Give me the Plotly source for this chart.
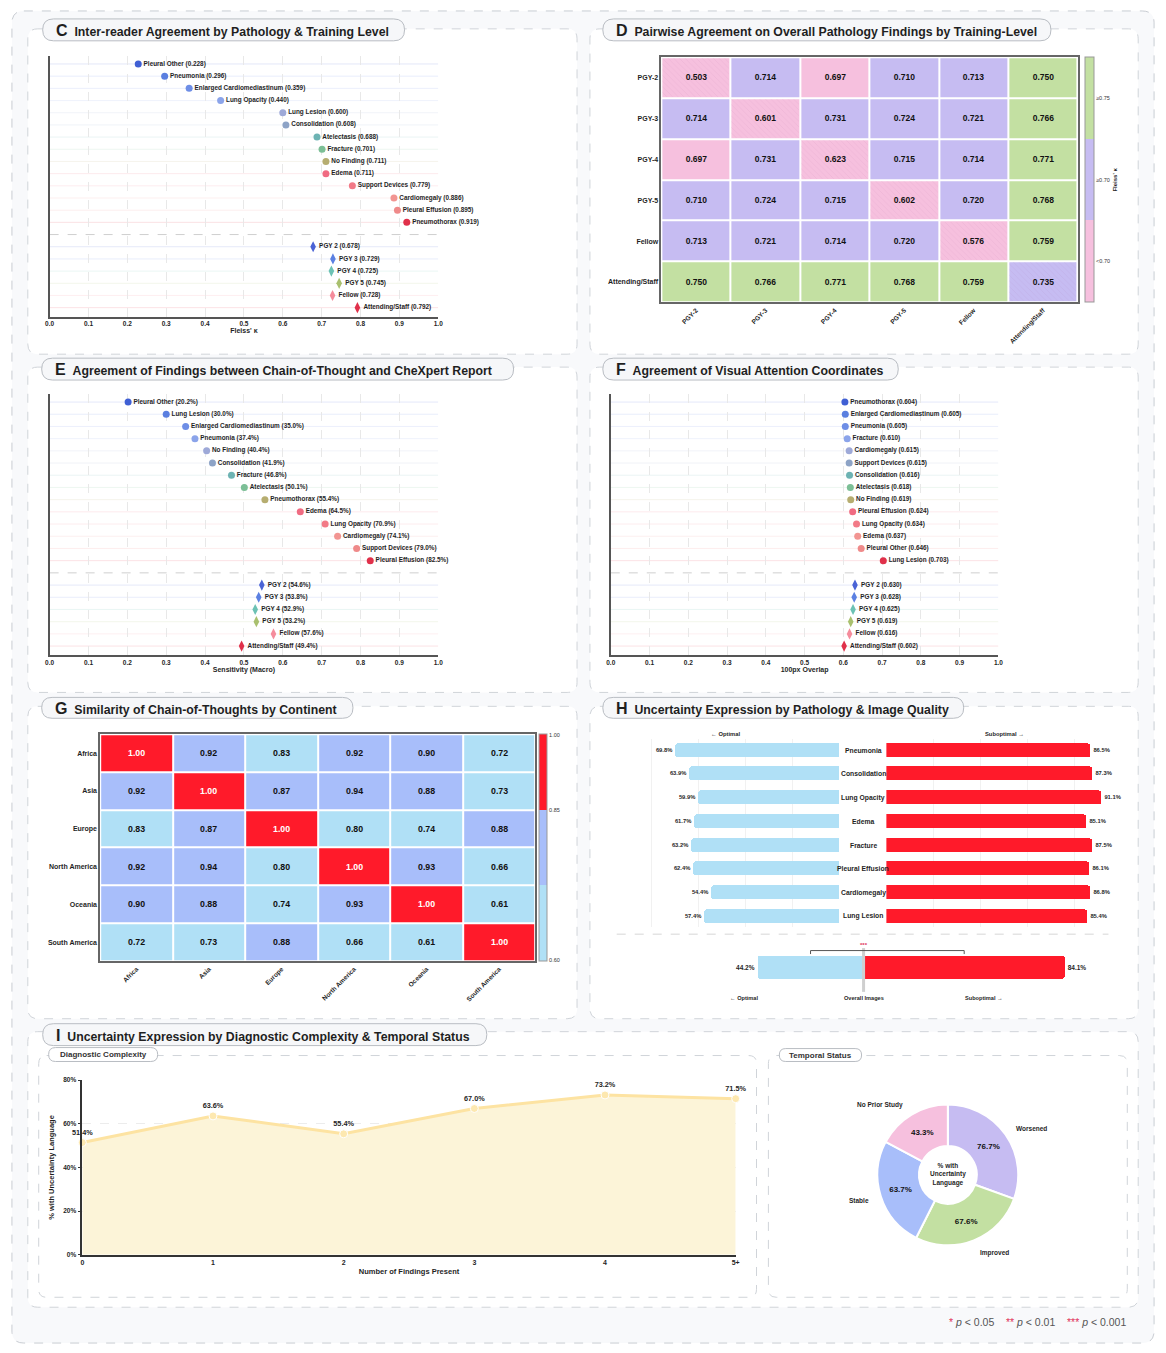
import plotly.graph_objects as go

# ---------------- data ----------------
levels = ["PGY 2", "PGY 3", "PGY 4", "PGY 5", "Fellow", "Attending/Staff"]

C_paths = ["Pleural Other", "Pneumonia", "Enlarged Cardiomediastinum", "Lung Opacity", "Lung Lesion",
           "Consolidation", "Atelectasis", "Fracture", "No Finding", "Edema", "Support Devices",
           "Cardiomegaly", "Pleural Effusion", "Pneumothorax"]
C_vals = [0.228, 0.296, 0.359, 0.440, 0.600, 0.608, 0.688, 0.701, 0.711, 0.711, 0.779, 0.886, 0.895, 0.919]
C_levels = [0.678, 0.729, 0.725, 0.745, 0.728, 0.792]

E_paths = ["Pleural Other", "Lung Lesion", "Enlarged Cardiomediastinum", "Pneumonia", "No Finding",
           "Consolidation", "Fracture", "Atelectasis", "Pneumothorax", "Edema", "Lung Opacity",
           "Cardiomegaly", "Support Devices", "Pleural Effusion"]
E_vals = [0.202, 0.300, 0.350, 0.374, 0.404, 0.419, 0.468, 0.501, 0.554, 0.645, 0.709, 0.741, 0.790, 0.825]
E_levels = [0.546, 0.538, 0.529, 0.532, 0.576, 0.494]

F_paths = ["Pneumothorax", "Enlarged Cardiomediastinum", "Pneumonia", "Fracture", "Cardiomegaly",
           "Support Devices", "Consolidation", "Atelectasis", "No Finding", "Pleural Effusion",
           "Lung Opacity", "Edema", "Pleural Other", "Lung Lesion"]
F_vals = [0.604, 0.605, 0.605, 0.610, 0.615, 0.615, 0.616, 0.618, 0.619, 0.624, 0.634, 0.637, 0.646, 0.703]
F_levels = [0.630, 0.628, 0.625, 0.619, 0.616, 0.602]

D_labels = ["PGY-2", "PGY-3", "PGY-4", "PGY-5", "Fellow", "Attending/Staff"]
D_vals = [[0.503, 0.714, 0.697, 0.710, 0.713, 0.750],
          [0.714, 0.601, 0.731, 0.724, 0.721, 0.766],
          [0.697, 0.731, 0.623, 0.715, 0.714, 0.771],
          [0.710, 0.724, 0.715, 0.602, 0.720, 0.768],
          [0.713, 0.721, 0.714, 0.720, 0.576, 0.759],
          [0.750, 0.766, 0.771, 0.768, 0.759, 0.735]]
D_bins = ["<0.70", "≥0.70", "≥0.75"]

G_labels = ["Africa", "Asia", "Europe", "North America", "Oceania", "South America"]
G_vals = [[1.00, 0.92, 0.83, 0.92, 0.90, 0.72],
          [0.92, 1.00, 0.87, 0.94, 0.88, 0.73],
          [0.83, 0.87, 1.00, 0.80, 0.74, 0.88],
          [0.92, 0.94, 0.80, 1.00, 0.93, 0.66],
          [0.90, 0.88, 0.74, 0.93, 1.00, 0.61],
          [0.72, 0.73, 0.88, 0.66, 0.61, 1.00]]
G_ticks = ["0.60", "0.85", "1.00"]

H_paths = ["Pneumonia", "Consolidation", "Lung Opacity", "Edema", "Fracture", "Pleural Effusion",
           "Cardiomegaly", "Lung Lesion"]
H_optimal = [69.8, 63.9, 59.9, 61.7, 63.2, 62.4, 54.4, 57.4]
H_suboptimal = [86.5, 87.3, 91.1, 85.1, 87.5, 86.1, 86.8, 85.4]
H_overall = [44.2, 84.1]

I_findings = ["0", "1", "2", "3", "4", "5+"]
I_pct = [51.4, 63.6, 55.4, 67.0, 73.2, 71.5]
T_status = ["Worsened", "Improved", "Stable", "No Prior Study"]
T_pct = [76.7, 67.6, 63.7, 43.3]

# ---------------- styling ----------------
PATH_COLORS = ["#3f5fd4", "#5a7fe0", "#6e8ee6", "#8ba4ea", "#9ea9d8", "#8da3c6", "#6db3b3",
               "#7cbf96", "#b6ad70", "#f06b82", "#f27a87", "#f29592", "#ef8a8a", "#e0304a"]
LEVEL_COLORS = ["#4a63d6", "#5b80e2", "#6cc2b4", "#a9c06e", "#f58c9c", "#e0304a"]
PINK, LAV, GREEN = "#f6c0de", "#c6bcf2", "#c3e0a2"
RED, BLUE, LBLUE = "#ff1a2a", "#a8befa", "#b0e0f6"
FONT = "Liberation Sans, Arial, Helvetica, sans-serif"
TXT = "#1f1f1f"

W, H = 1166, 1353


def X(p):
    return p / W


def Y(p):
    return 1 - p / H


def rgba(h, a):
    h = h.lstrip("#")
    return f"rgba({int(h[0:2],16)},{int(h[2:4],16)},{int(h[4:6],16)},{a})"


shapes, annos = [], []


def rrect(x0, y0, x1, y1, r, fill, line, dash="dash", width=1):
    def P(x, y):
        return f"{X(x):.5f},{Y(y):.5f}"
    path = (f"M {P(x0+r,y0)} L {P(x1-r,y0)} Q {P(x1,y0)} {P(x1,y0+r)} L {P(x1,y1-r)} "
            f"Q {P(x1,y1)} {P(x1-r,y1)} L {P(x0+r,y1)} Q {P(x0,y1)} {P(x0,y1-r)} "
            f"L {P(x0,y0+r)} Q {P(x0,y0)} {P(x0+r,y0)} Z")
    shapes.append(dict(type="path", xref="paper", yref="paper", path=path, fillcolor=fill,
                       line=dict(color=line, width=width, dash=dash), layer="below"))


def anno(x, y, text, size=7, xanchor="center", yanchor="middle", color=TXT, bold=True, **kw):
    annos.append(dict(x=X(x), y=Y(y), xref="paper", yref="paper", text=text, showarrow=False,
                      xanchor=xanchor, yanchor=yanchor,
                      font=dict(size=size, color=color, family=FONT, weight="bold" if bold else "normal"),
                      **kw))


fig = go.Figure()

# ---------------- frames ----------------
rrect(7, 7, 1159, 1346, 12, "#f8f9fb", "#c9cdd3")
for (x0, y0, x1, y1) in [(23, 25, 577, 352), (590, 25, 1143, 352), (23, 365, 577, 692), (590, 365, 1143, 692),
                         (23, 706, 577, 1020), (590, 706, 1143, 1020), (23, 1033, 1143, 1310)]:
    rrect(x0, y0, x1, y1, 10, "white", "#d0d4d9")
for (x0, y0, x1, y1) in [(34, 1057, 758, 1300), (770, 1057, 1132, 1300)]:
    rrect(x0, y0, x1, y1, 8, "white", "#d0d4d9")

pills = [(38, 15, 403, 37, "C", "Inter-reader Agreement by Pathology &amp; Training Level"),
         (603, 15, 1055, 37, "D", "Pairwise Agreement on Overall Pathology Findings by Training-Level"),
         (37, 356, 513, 378, "E", "Agreement of Findings between Chain-of-Thought and CheXpert Report"),
         (603, 356, 901, 378, "F", "Agreement of Visual Attention Coordinates"),
         (37, 697, 351, 718, "G", "Similarity of Chain-of-Thoughts by Continent"),
         (603, 697, 967, 718, "H", "Uncertainty Expression by Pathology &amp; Image Quality"),
         (38, 1025, 486, 1047, "I", "Uncertainty Expression by Diagnostic Complexity &amp; Temporal Status")]
for (x0, y0, x1, y1, L, t) in pills:
    rrect(x0, y0, x1, y1, (y1 - y0) / 2, "#f6f7f9", "#b9bdc3", dash="solid")
    anno(x0 + 11, (y0 + y1) / 2 + 0.5,
         f"<span style='font-size:16px'>{L}</span>&#160;&#160;{t}", size=12.3, xanchor="left")
for (x0, y0, x1, y1, t) in [(44, 1049, 154, 1063, "Diagnostic Complexity"), (781, 1050, 864, 1063, "Temporal Status")]:
    rrect(x0, y0, x1, y1, (y1 - y0) / 2, "white", "#b9bdc3", dash="solid")
    anno((x0 + x1) / 2, (y0 + y1) / 2, t, size=8, color="#333")

layout_axes = {}


def axkeys(n):
    return ("xaxis", "yaxis", "x", "y") if n == 1 else (f"xaxis{n}", f"yaxis{n}", f"x{n}", f"y{n}")


# ---------------- lollipop panels (C, E, F) ----------------
def lollipop(n, xpx, ypx, names, vals, lvl_vals, fmt, title):
    xk, yk, xa, ya = axkeys(n)
    rows = list(range(len(names)))
    lrows = [len(names) + 1 + i for i in range(len(lvl_vals))]
    for r, c in zip(rows, PATH_COLORS):
        shapes.append(dict(type="line", xref=xa, yref=ya, x0=0, x1=1, y0=r, y1=r,
                           line=dict(color=rgba(c, 0.14), width=1), layer="below"))
    for r, c in zip(lrows, LEVEL_COLORS):
        shapes.append(dict(type="line", xref=xa, yref=ya, x0=0, x1=1, y0=r, y1=r,
                           line=dict(color=rgba(c, 0.14), width=1), layer="below"))
    shapes.append(dict(type="line", xref=xa, yref=ya, x0=0, x1=1, y0=len(names), y1=len(names),
                       line=dict(color="#cfcfcf", width=1, dash="dash"), layer="below"))
    fig.add_trace(go.Scatter(x=vals, y=rows, mode="markers+text", xaxis=xa, yaxis=ya,
                             marker=dict(size=7, color=PATH_COLORS),
                             text=[f"{nm} ({fmt(v)})" for nm, v in zip(names, vals)],
                             textposition="middle right", cliponaxis=False, hoverinfo="skip",
                             textfont=dict(size=6.4, color=TXT, family=FONT, weight="bold"), showlegend=False))
    fig.add_trace(go.Scatter(x=lvl_vals, y=lrows, mode="markers+text", xaxis=xa, yaxis=ya,
                             marker=dict(size=8, color=LEVEL_COLORS, symbol="diamond-tall"),
                             text=[f"{nm} ({fmt(v)})" for nm, v in zip(levels, lvl_vals)],
                             textposition="middle right", cliponaxis=False, hoverinfo="skip",
                             textfont=dict(size=6.4, color=TXT, family=FONT, weight="bold"), showlegend=False))
    layout_axes[xk] = dict(domain=[X(xpx[0]), X(xpx[1])], range=[0, 1], dtick=0.1, tickformat=".1f",
                           showgrid=True, gridcolor="#e8e8e8", griddash="dash", zeroline=False,
                           showline=True, linecolor="#555", linewidth=1.5, ticks="", anchor=ya,
                           tickfont=dict(size=6.5, color=TXT, family=FONT, weight="bold"),
                           title=dict(text=title, standoff=2,
                                      font=dict(size=7, color=TXT, family=FONT, weight="bold")))
    layout_axes[yk] = dict(domain=[Y(ypx[1]), Y(ypx[0])], range=[20.74, -0.62], showgrid=False,
                           showticklabels=False, zeroline=False, showline=True, linecolor="#555",
                           linewidth=1.5, anchor=xa)


lollipop(1, (45, 437), (52.7, 314.3), C_paths, C_vals, C_levels, lambda v: f"{v:.3f}", "Fleiss' κ")
lollipop(3, (45, 437), (392.5, 654.5), E_paths, E_vals, E_levels, lambda v: f"{v*100:.1f}%", "Sensitivity (Macro)")
lollipop(4, (611, 1002), (392.5, 654.5), F_paths, F_vals, F_levels, lambda v: f"{v:.3f}", "100px Overlap")

# ---------------- D heatmap ----------------
D_cat = [[0 if v < 0.70 else (1 if v < 0.75 else 2) for v in row] for row in D_vals]
idx = list(range(6))
fig.add_trace(go.Heatmap(z=D_cat, x=idx, y=idx, xaxis="x2", yaxis="y2", zmin=-0.5, zmax=2.5,
                         colorscale=[[0, PINK], [1/3, PINK], [1/3, LAV], [2/3, LAV], [2/3, GREEN], [1, GREEN]],
                         xgap=2, ygap=2, text=[[f"{v:.3f}" for v in row] for row in D_vals],
                         texttemplate="%{text}", hoverinfo="skip",
                         textfont=dict(size=8.5, color="#111", family=FONT, weight="bold"),
                         colorbar=dict(x=X(1089), xanchor="left", xpad=0, ypad=0, thickness=9,
                                       len=(300 - 53.5) / H, lenmode="fraction", y=Y(176.75), yanchor="middle",
                                       outlinewidth=1, outlinecolor="#999", tickvals=[0, 1, 2], ticktext=D_bins,
                                       ticks="", tickfont=dict(size=5.5, color="#333", family=FONT),
                                       title=dict(text="Fleiss' κ", side="right",
                                                  font=dict(size=6, color="#222", family=FONT, weight="bold")))))
fig.add_trace(go.Bar(x=idx, y=[0.95] * 6, base=[i - 0.475 for i in idx], width=0.97, xaxis="x2", yaxis="y2",
                     marker=dict(color="rgba(0,0,0,0)", line=dict(width=0),
                                 pattern=dict(shape="\\", fgcolor="rgba(140,70,130,0.16)", size=4, solidity=0.2)),
                     hoverinfo="skip", showlegend=False))
layout_axes["xaxis2"] = dict(domain=[X(662), X(1082)], range=[-0.5, 5.5], tickvals=idx, ticktext=D_labels,
                             tickangle=-45, showgrid=False, zeroline=False, showline=True, mirror=True,
                             linecolor="#666", linewidth=1.5, ticks="", anchor="y2",
                             tickfont=dict(size=6.5, color=TXT, family=FONT, weight="bold"))
layout_axes["yaxis2"] = dict(domain=[Y(300), Y(53.5)], range=[5.5, -0.5], tickvals=idx, ticktext=D_labels,
                             showgrid=False, zeroline=False, showline=True, mirror=True,
                             linecolor="#666", linewidth=1.5, ticks="", anchor="x2",
                             tickfont=dict(size=7, color=TXT, family=FONT, weight="bold"))

# ---------------- G heatmap ----------------
G_cat = [[2 if v >= 0.995 else (1 if v >= 0.85 else 0) for v in row] for row in G_vals]
fig.add_trace(go.Heatmap(z=G_cat, x=idx, y=idx, xaxis="x5", yaxis="y5", zmin=-0.5, zmax=2.5,
                         colorscale=[[0, LBLUE], [1/3, LBLUE], [1/3, BLUE], [2/3, BLUE], [2/3, RED], [1, RED]],
                         xgap=2, ygap=2, hoverinfo="skip",
                         colorbar=dict(x=X(539), xanchor="left", xpad=0, ypad=0, thickness=8,
                                       len=(962 - 734) / H, lenmode="fraction", y=Y(848), yanchor="middle",
                                       outlinewidth=1, outlinecolor="#999", tickvals=[-0.49, 1.5, 2.49],
                                       ticktext=G_ticks, ticks="",
                                       tickfont=dict(size=5.5, color="#333", family=FONT))))
layout_axes["xaxis5"] = dict(domain=[X(96), X(535)], range=[-0.5, 5.5], tickvals=idx, ticktext=G_labels,
                             tickangle=-45, showgrid=False, zeroline=False, showline=True, mirror=True,
                             linecolor="#666", linewidth=1.5, ticks="", anchor="y5",
                             tickfont=dict(size=6.5, color=TXT, family=FONT, weight="bold"))
layout_axes["yaxis5"] = dict(domain=[Y(962), Y(734)], range=[5.5, -0.5], tickvals=idx, ticktext=G_labels,
                             showgrid=False, zeroline=False, showline=True, mirror=True,
                             linecolor="#666", linewidth=1.5, ticks="", anchor="x5",
                             tickfont=dict(size=7, color=TXT, family=FONT, weight="bold"))
for i, row in enumerate(G_vals):
    for j, v in enumerate(row):
        annos.append(dict(x=j, y=i, xref="x5", yref="y5", text=f"{v:.2f}", showarrow=False,
                          font=dict(size=8.8, family=FONT, weight="bold",
                                    color="white" if G_cat[i][j] == 2 else "#111")))

# ---------------- H diverging bars ----------------
hrows = list(range(len(H_paths)))
fig.add_trace(go.Bar(x=H_optimal, y=hrows, orientation="h", width=0.59, xaxis="x6", yaxis="y6",
                     marker=dict(color=LBLUE, cornerradius=2, line=dict(width=0)),
                     text=[f"{v:.1f}%" for v in H_optimal], textposition="outside", cliponaxis=False,
                     textfont=dict(size=5.8, color=TXT, family=FONT, weight="bold"), hoverinfo="skip",
                     showlegend=False))
fig.add_trace(go.Bar(x=H_suboptimal, y=hrows, orientation="h", width=0.59, xaxis="x7", yaxis="y7",
                     marker=dict(color=RED, cornerradius=2, line=dict(width=0)),
                     text=[f"{v:.1f}%" for v in H_suboptimal], textposition="outside", cliponaxis=False,
                     textfont=dict(size=5.8, color=TXT, family=FONT, weight="bold"), hoverinfo="skip",
                     showlegend=False))
hx = dict(showgrid=True, gridcolor="#f1f1f1", dtick=20, showticklabels=False, zeroline=False, showline=False,
          ticks="")
hy = dict(domain=[Y(927.7), Y(739.3)], range=[7.45, -0.45], visible=False)
layout_axes["xaxis6"] = dict(domain=[X(604.5), X(842)], range=[100, 0], anchor="y6", **hx)
layout_axes["yaxis6"] = dict(anchor="x6", **hy)
layout_axes["xaxis7"] = dict(domain=[X(889), X(1126.5)], range=[0, 100], anchor="y7", **hx)
layout_axes["yaxis7"] = dict(anchor="x7", **hy)
for i, nm in enumerate(H_paths):
    anno(865.5, 750 + i * 23.86, nm, size=6.8)
anno(727, 734, "← Optimal", size=5.8)
anno(1008, 734, "Suboptimal →", size=5.8)
shapes.append(dict(type="line", xref="paper", yref="paper", x0=X(617), x1=X(1113), y0=Y(935), y1=Y(935),
                   line=dict(color="#d6d6d6", width=1, dash="dash"), layer="below"))

fig.add_trace(go.Bar(x=[-H_overall[0]], y=[0], orientation="h", width=1.0, xaxis="x8", yaxis="y8",
                     marker=dict(color=LBLUE, cornerradius=2, line=dict(width=0)),
                     text=[f"{H_overall[0]:.1f}%"], textposition="outside", cliponaxis=False,
                     textfont=dict(size=6.5, color=TXT, family=FONT, weight="bold"), hoverinfo="skip",
                     showlegend=False))
fig.add_trace(go.Bar(x=[H_overall[1]], y=[0], orientation="h", width=1.0, xaxis="x8", yaxis="y8",
                     marker=dict(color=RED, cornerradius=2, line=dict(width=0)),
                     text=[f"{H_overall[1]:.1f}%"], textposition="outside", cliponaxis=False,
                     textfont=dict(size=6.5, color=TXT, family=FONT, weight="bold"), hoverinfo="skip",
                     showlegend=False))
layout_axes["xaxis8"] = dict(domain=[X(617), X(1115)], range=[-103, 103], visible=False, anchor="y8")
layout_axes["yaxis8"] = dict(domain=[Y(991.5), Y(945.5)], range=[-1, 1], visible=False, anchor="x8")
shapes.append(dict(type="line", xref="paper", yref="paper", x0=X(866), x1=X(866), y0=Y(949), y1=Y(993),
                   line=dict(color="#cfcfcf", width=3), layer="above"))
shapes.append(dict(type="path", xref="paper", yref="paper",
                   path=f"M {X(812.5)},{Y(955)} L {X(812.5)},{Y(951.5)} L {X(967.5)},{Y(951.5)} L {X(967.5)},{Y(955)}",
                   line=dict(color="#555", width=1), layer="above"))
anno(866, 945.5, "***", size=6, color="#e0325a")
anno(745, 999, "← Optimal", size=5.6)
anno(866, 999, "Overall Images", size=5.6)
anno(987, 999, "Suboptimal →", size=5.6)

# ---------------- I line chart ----------------
xi = list(range(len(I_findings)))
fig.add_trace(go.Scatter(x=xi, y=I_pct, mode="lines+markers+text", xaxis="x9", yaxis="y9",
                         fill="tozeroy", fillcolor="#fcf4d8", line=dict(color="#fde3a2", width=3),
                         marker=dict(size=8, color="#fde8b0", line=dict(color="white", width=1)),
                         text=[f"{v:.1f}%" for v in I_pct], textposition="top center", cliponaxis=False,
                         textfont=dict(size=7.3, color=TXT, family=FONT, weight="bold"), hoverinfo="skip",
                         showlegend=False))
layout_axes["xaxis9"] = dict(domain=[X(78), X(737)], range=[0, 5], tickvals=xi, ticktext=I_findings,
                             showgrid=False, zeroline=False, showline=True, linecolor="#333", linewidth=1.5,
                             ticks="", anchor="y9",
                             tickfont=dict(size=7, color=TXT, family=FONT, weight="bold"),
                             title=dict(text="Number of Findings Present", standoff=4,
                                        font=dict(size=7.5, color=TXT, family=FONT, weight="bold")))
layout_axes["yaxis9"] = dict(domain=[Y(1257.3), Y(1081.7)], range=[0, 80], tickvals=[0, 20, 40, 60, 80],
                             ticktext=["0%", "20%", "40%", "60%", "80%"], showgrid=True, gridcolor="#ececec",
                             griddash="dash", zeroline=False, showline=True, linecolor="#333", linewidth=1.5,
                             ticks="outside", ticklen=3, tickcolor="#333", anchor="x9",
                             tickfont=dict(size=6.5, color=TXT, family=FONT, weight="bold"),
                             title=dict(text="% with Uncertainty Language", standoff=8,
                                        font=dict(size=7.5, color=TXT, family=FONT, weight="bold")))

# ---------------- I donut ----------------
fig.add_trace(go.Pie(values=T_pct, labels=T_status, text=[f"{v:.1f}%" for v in T_pct], textinfo="text",
                     textposition="inside", insidetextorientation="horizontal", sort=False,
                     direction="clockwise", rotation=0, hole=0.41,
                     marker=dict(colors=[LAV, GREEN, BLUE, PINK], line=dict(color="white", width=2)),
                     textfont=dict(size=8, color="#111", family=FONT, weight="bold"),
                     domain=dict(x=[X(880), X(1022)], y=[Y(1248), Y(1106)]), hoverinfo="skip",
                     showlegend=False))
anno(951, 1177, "% with<br>Uncertainty<br>Language", size=6.5)
for (px_, py_, t) in [(883, 1107, "No Prior Study"), (1035, 1130, "Worsened"), (861, 1203, "Stable"),
                      (998, 1255, "Improved")]:
    anno(px_, py_, t, size=6.5)

# ---------------- p-value legend ----------------
star = "<span style='color:#e0325a'>{}</span>"
anno(1133, 1325,
     f"{star.format('*')} <i>p</i> &lt; 0.05&#160;&#160;&#160;&#160;{star.format('**')} <i>p</i> &lt; 0.01"
     f"&#160;&#160;&#160;&#160;{star.format('***')} <i>p</i> &lt; 0.001",
     size=10.5, xanchor="right", color="#555", bold=False)

fig.update_layout(width=W, height=H, margin=dict(l=0, r=0, t=0, b=0), paper_bgcolor="white",
                  plot_bgcolor="rgba(0,0,0,0)", barmode="overlay", bargap=0,
                  font=dict(family=FONT, color=TXT), shapes=shapes, annotations=annos, showlegend=False,
                  **layout_axes)
fig.write_html("out.html", config={"displayModeBar": False},
               post_script="document.body.style.margin='0';document.body.style.overflow='hidden';"
                           "document.documentElement.style.overflow='hidden';")
